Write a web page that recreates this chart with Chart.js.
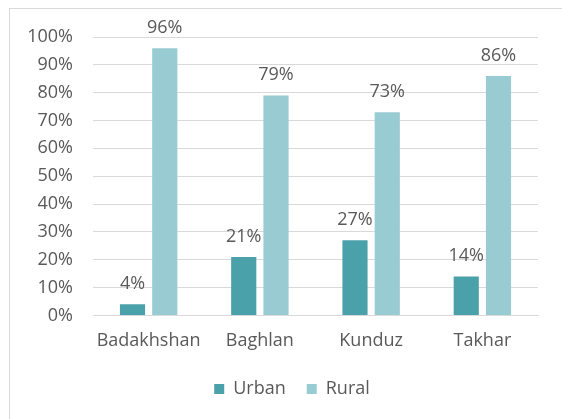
<!DOCTYPE html>
<html>
<head>
<meta charset="utf-8">
<script src="https://cdn.jsdelivr.net/npm/chart.js@4"></script>
<style>
  html, body { margin: 0; padding: 0; background: #fff; }
  #wrap { position: relative; width: 562px; height: 419px; }
  #frame { position: absolute; left: 9px; top: 8px; right: -5px; bottom: -5px; border-top: 1px solid #d9d9d9; border-left: 1px solid #d9d9d9; }
  canvas { position: absolute; left: 0; top: 0; }
</style>
</head>
<body>
<div id="wrap">
  <div id="frame"></div>
  <canvas id="grafico" width="562" height="419"></canvas>
</div>
<script>
// dados
const provincias = ['Badakhshan', 'Baghlan', 'Kunduz', 'Takhar'];
const urbano = [4, 21, 27, 14];
const rural = [96, 79, 73, 86];
const ticksY = [0, 10, 20, 30, 40, 50, 60, 70, 80, 90, 100];

const corTexto = '#595959';
const fonte = "'Open Sans', sans-serif";

// rótulos em cima das barras
const rotulos = {
    id: 'rotulos',
    afterDatasetsDraw(chart) {
        const ctx = chart.ctx;
        ctx.save();
        ctx.font = '18px ' + fonte;
        ctx.fillStyle = corTexto;
        ctx.textAlign = 'center';
        ctx.textBaseline = 'alphabetic';
        chart.data.datasets.forEach((ds, i) => {
            chart.getDatasetMeta(i).data.forEach((bar, j) => {
                ctx.fillText(ds.data[j] + '%', bar.x, bar.y - 15);
            });
        });
        ctx.restore();
    }
};

// empurra a legenda um pouco para a direita
const moverLegenda = {
    id: 'moverLegenda',
    afterLayout(chart) {
        chart.legend.left += 23;
        chart.legend.right += 23;
    }
};

const ctx = document.getElementById('grafico').getContext('2d');
const grafico = new Chart(ctx, {
    type: 'bar',
    data: {
        labels: provincias,
        datasets: [{
            label: 'Urban',
            data: urbano,
            backgroundColor: '#4ba1a9',
            categoryPercentage: 0.58,
            barPercentage: 0.78
        }, {
            label: 'Rural',
            data: rural,
            backgroundColor: '#98cbd2',
            categoryPercentage: 0.58,
            barPercentage: 0.78
        }]
    },
    options: {
        responsive: false,
        animation: false,
        layout: {
            padding: { left: 0, right: 24, top: 37, bottom: 11 }
        },
        plugins: {
            legend: {
                position: 'bottom',
                labels: {
                    boxWidth: 10,
                    boxHeight: 10,
                    padding: 21,
                    color: corTexto,
                    font: { family: fonte, size: 18 }
                }
            },
            tooltip: { enabled: false }
        },
        scales: {
            x: {
                grid: { display: false },
                border: { color: '#d9d9d9', width: 1 },
                ticks: {
                    color: corTexto,
                    padding: 7,
                    font: { family: fonte, size: 18 }
                }
            },
            y: {
                min: 0,
                max: 100,
                afterFit(scale) { scale.width = 93; },
                afterBuildTicks(scale) { scale.ticks = ticksY.map(v => ({ value: v })); },
                border: { display: false },
                grid: { color: '#d9d9d9', drawTicks: false },
                ticks: {
                    color: corTexto,
                    padding: 20,
                    font: { family: fonte, size: 18 },
                    callback: v => v + '%'
                }
            }
        }
    },
    plugins: [rotulos, moverLegenda]
});
</script>
</body>
</html>
